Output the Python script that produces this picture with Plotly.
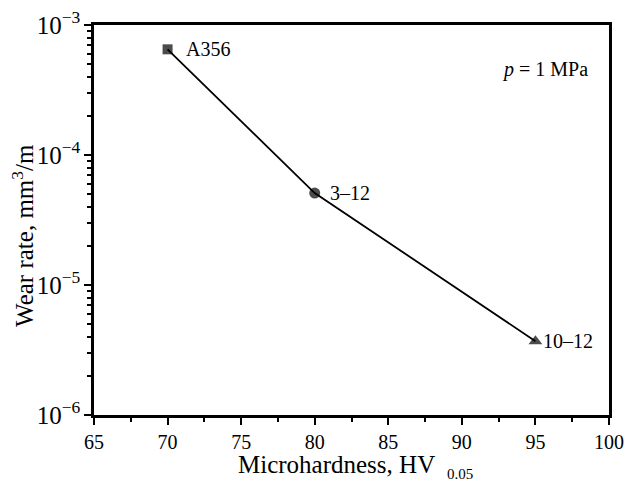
import math
import plotly.graph_objects as go

hardness = [70, 80, 95]
wear_rate = [6.5e-4, 5.1e-5, 3.7e-6]
labels = ["A356", "3–12", "10–12"]
symbols = ["square", "circle", "triangle-up"]
label_gap_px = [18, 15, 8]

FONT = "Liberation Serif, Times New Roman, serif"

fig = go.Figure()
fig.add_trace(go.Scatter(
    x=hardness, y=wear_rate, mode="lines+markers",
    line=dict(color="black", width=1.8),
    marker=dict(symbol=symbols, size=[10, 11, 12], color="black",
                line=dict(color="black", width=0)),
    showlegend=False, cliponaxis=False,
))

for xv, yv, lab, gap in zip(hardness, wear_rate, labels, label_gap_px):
    fig.add_annotation(
        x=xv, y=math.log10(yv), yref="y", xref="x", text=lab, showarrow=False,
        xanchor="left", yanchor="middle", xshift=gap - 2,
        font=dict(family=FONT, size=20, color="black"),
    )

fig.add_annotation(
    x=0.963, y=0.885, xref="paper", yref="paper", xanchor="right", yanchor="middle",
    text="<i>p</i> = 1 MPa", showarrow=False,
    font=dict(family=FONT, size=20, color="black"),
)

# axis titles (placed as annotations to mimic the original's layout)
fig.add_annotation(
    x=0.47, y=-0.128, xref="paper", yref="paper", xanchor="center", yanchor="middle",
    text="Microhardness, HV", showarrow=False,
    font=dict(family=FONT, size=25, color="black"),
)
fig.add_annotation(
    x=0.6816, y=-0.151, xref="paper", yref="paper", xanchor="left", yanchor="middle",
    text="0.05", showarrow=False,
    font=dict(family=FONT, size=15, color="black"),
)
fig.add_annotation(
    x=-0.138, y=0.4615, xref="paper", yref="paper", xanchor="center", yanchor="middle",
    text="Wear rate, mm<sup>3</sup>/m", showarrow=False, textangle=-90,
    font=dict(family=FONT, size=25, color="black"),
)

axis_common = dict(
    showline=True, linecolor="black", linewidth=2.5, mirror=True,
    ticks="outside", tickcolor="black", tickwidth=2, ticklen=7,
    showgrid=False, zeroline=False, automargin=False,
    ticklabeloverflow="allow",
    tickfont=dict(family=FONT, size=20, color="black"),
)

fig.update_xaxes(
    range=[65, 100], dtick=5, tick0=65,
    minor=dict(ticks="outside", dtick=2.5, tick0=65, ticklen=4, tickwidth=2, tickcolor="black"),
    **axis_common,
)
fig.update_yaxes(
    type="log", range=[-6, -3], dtick=1, exponentformat="power", showexponent="all",
    minor=dict(ticks="outside", dtick="D1", ticklen=4, tickwidth=2, tickcolor="black"),
    **axis_common,
)

fig.update_layout(
    width=617, height=474,
    margin=dict(l=86, r=16, t=17, b=67),
    plot_bgcolor="white", paper_bgcolor="white",
    font=dict(family=FONT, color="black"),
)

fig.write_html("out.html")
